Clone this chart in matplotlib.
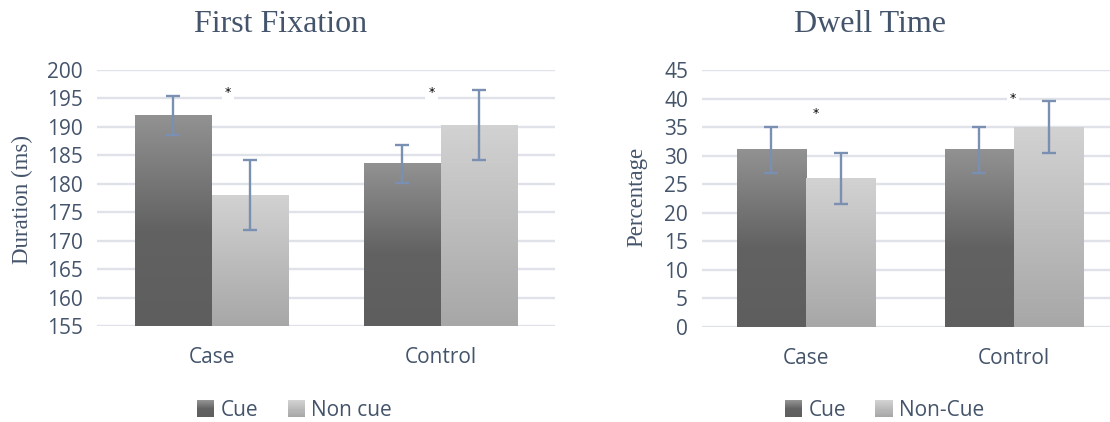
# Eye-tracking results: first fixation duration and dwell time, cue vs non-cue

import numpy as np
import matplotlib
matplotlib.use('Agg')
import matplotlib.pyplot as plt
from matplotlib.colors import LinearSegmentedColormap
from matplotlib.legend_handler import HandlerBase
from matplotlib.patches import Rectangle

groups = ['Case', 'Control']

# First fixation (ms)
ff_cue = [192.0, 183.5]
ff_cue_err = [3.5, 3.4]
ff_noncue = [178.0, 190.3]
ff_noncue_err = [6.2, 6.2]
ff_star_x = [0.072, -0.039]
ff_star_y = [196.1, 196.1]

# Dwell time (%)
dw_cue = [31.0, 31.0]
dw_cue_err = [4.0, 4.0]
dw_noncue = [26.0, 35.0]
dw_noncue_err = [4.5, 4.5]
dw_star_x = [0.048, -0.005]
dw_star_y = [37.4, 40.0]

TXT = '#44546a'
GRID = '#dfe3e9'
ERR = '#7a90b2'
SERIF = 'Liberation Serif'
SANS = 'Open Sans'

cue_cmap = LinearSegmentedColormap.from_list(
    'cue', [(0.0, '#929292'), (0.55, '#626262'), (1.0, '#5e5e5e')])
noncue_cmap = LinearSegmentedColormap.from_list(
    'noncue', [(0.0, '#d2d2d2'), (1.0, '#a7a7a7')])


class GradientHandler(HandlerBase):
    def __init__(self, cmap, n=16):
        super().__init__()
        self.cmap = cmap
        self.n = n

    def create_artists(self, legend, orig_handle, xdescent, ydescent,
                       width, height, fontsize, trans):
        arts = []
        h = height / self.n
        for i in range(self.n):
            y = -ydescent + height - (i + 1) * h
            arts.append(Rectangle((-xdescent, y), width, h * 1.05,
                                  facecolor=self.cmap(i / (self.n - 1)),
                                  edgecolor='none', transform=trans))
        return arts


def gradient_bars(ax, bars, cmap):
    grad = np.linspace(0, 1, 256)[:, None]
    for b in bars:
        x0, y0 = b.get_x(), b.get_y()
        w, h = b.get_width(), b.get_height()
        ax.imshow(grad, cmap=cmap, vmin=0, vmax=1, aspect='auto',
                  extent=(x0, x0 + w, y0, y0 + h), origin='upper',
                  interpolation='bilinear', zorder=2)


def panel(ax, cue, cue_err, noncue, noncue_err, ylim, star_x, star_y,
          labels, leg_x):
    x = np.arange(len(groups))
    w = 1 / 3
    base = ylim[0]
    b1 = ax.bar(x - w / 2, np.array(cue) - base, w, bottom=base,
                color='none', edgecolor='none', zorder=2)
    b2 = ax.bar(x + w / 2, np.array(noncue) - base, w, bottom=base,
                color='none', edgecolor='none', zorder=2)
    gradient_bars(ax, b1, cue_cmap)
    gradient_bars(ax, b2, noncue_cmap)
    ax.errorbar(x - w / 2, cue, yerr=cue_err, fmt='none', ecolor=ERR,
                elinewidth=1.7, capsize=5, capthick=1.7, zorder=4)
    ax.errorbar(x + w / 2, noncue, yerr=noncue_err, fmt='none', ecolor=ERR,
                elinewidth=1.7, capsize=5, capthick=1.7, zorder=4)
    for sx, sy, xi in zip(star_x, star_y, x):
        ax.text(xi + sx, sy, '*', ha='center', va='center', fontsize=9,
                color='black', zorder=5,
                bbox=dict(boxstyle='square,pad=0.25', fc='white', ec='none'))

    ax.set_xlim(-0.5, len(groups) - 0.5)
    ax.set_ylim(*ylim)
    ax.set_yticks(np.arange(ylim[0], ylim[1] + 1, 5))
    ax.set_xticks(x)
    ax.set_xticklabels(groups)
    ax.yaxis.grid(True, color=GRID, linewidth=1.7, zorder=0)
    ax.set_axisbelow(True)
    for s in ax.spines.values():
        s.set_visible(False)
    ax.tick_params(axis='both', length=0, labelsize=15, labelcolor=TXT)
    ax.tick_params(axis='x', pad=15)
    ax.tick_params(axis='y', pad=10)
    for t in ax.get_xticklabels() + ax.get_yticklabels():
        t.set_fontfamily(SANS)

    h1 = Rectangle((0, 0), 1, 1)
    h2 = Rectangle((0, 0), 1, 1)
    ax.legend([h1, h2], labels, loc='center',
              bbox_to_anchor=(leg_x, 0.028), bbox_transform=ax.figure.transFigure,
              ncol=2, frameon=False, handler_map={h1: GradientHandler(cue_cmap),
                                                  h2: GradientHandler(noncue_cmap)},
              prop={'family': SANS, 'size': 15}, labelcolor=TXT,
              handlelength=0.85, handleheight=0.85, handletextpad=0.3,
              columnspacing=1.4, borderpad=0)


fig = plt.figure(figsize=(11.10, 4.22), dpi=100)
W, H = 1110, 422

ax1 = fig.add_axes([97 / W, 1 - 326 / H, 458 / W, 256 / H])
panel(ax1, ff_cue, ff_cue_err, ff_noncue, ff_noncue_err, (155, 200),
      ff_star_x, ff_star_y, ['Cue', 'Non cue'], 294.5 / W)

ax2 = fig.add_axes([702 / W, 1 - 327 / H, 416 / W, 257 / H])
panel(ax2, dw_cue, dw_cue_err, dw_noncue, dw_noncue_err, (0, 45),
      dw_star_x, dw_star_y, ['Cue', 'Non-Cue'], 884.5 / W)

fig.text(281 / W, 1 - 25 / H, 'First Fixation', ha='center', va='center',
         fontsize=23, family=SERIF, color=TXT)
fig.text(870 / W, 1 - 25 / H, 'Dwell Time', ha='center', va='center',
         fontsize=23, family=SERIF, color=TXT)
fig.text(22 / W, 1 - 200 / H, 'Duration (ms)', rotation=90, ha='center',
         va='center', fontsize=16.5, family=SERIF, color=TXT)
fig.text(637 / W, 1 - 197 / H, 'Percentage', rotation=90, ha='center',
         va='center', fontsize=16.5, family=SERIF, color=TXT)

fig.savefig('out.png', dpi=100)
